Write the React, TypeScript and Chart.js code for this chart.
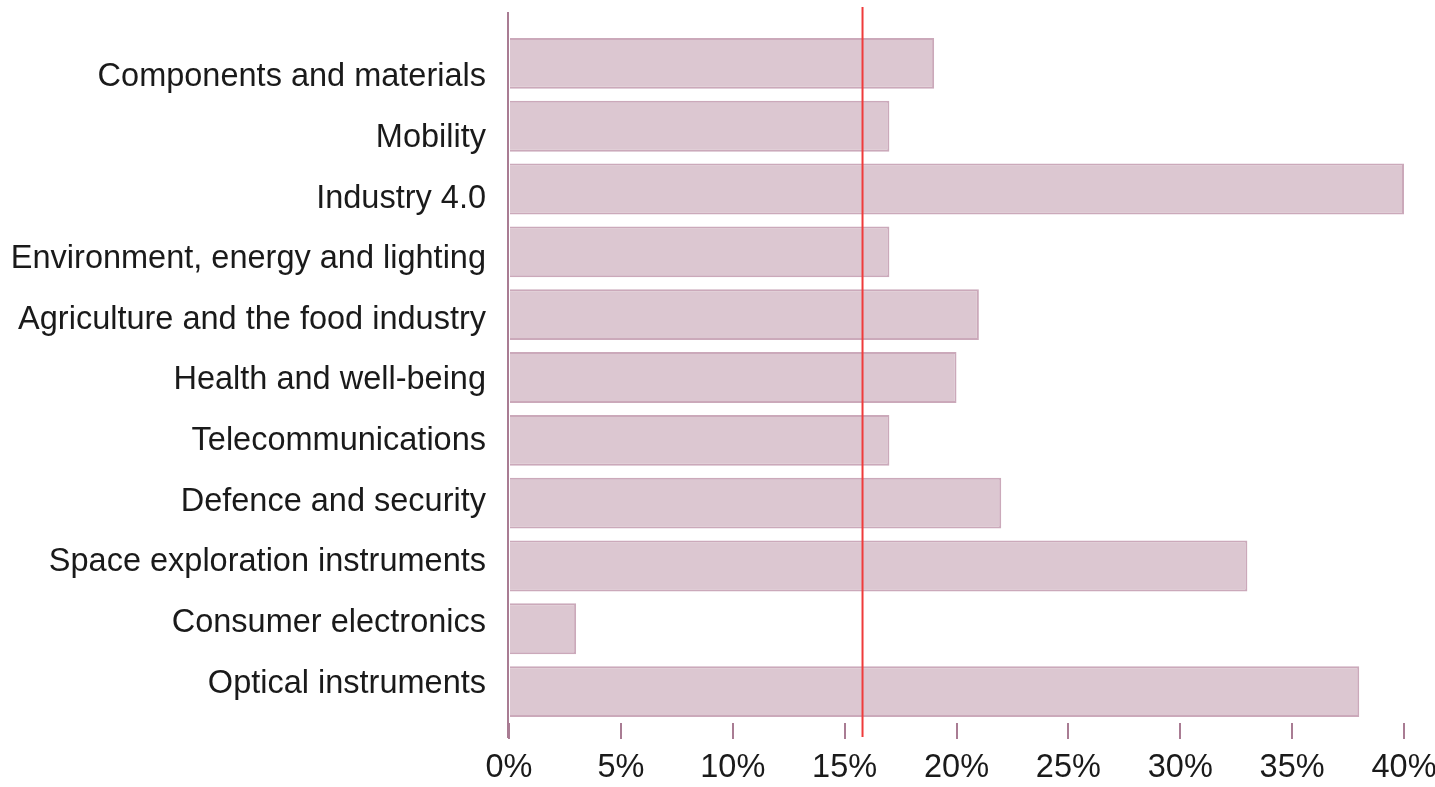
import React, { useEffect, useRef } from "react";
import { Chart, registerables } from "chart.js";

Chart.register(...registerables);

const CATEGORIES = [
  "Components and materials",
  "Mobility",
  "Industry 4.0",
  "Environment, energy and lighting",
  "Agriculture and the food industry",
  "Health and well-being",
  "Telecommunications",
  "Defence and security",
  "Space exploration instruments",
  "Consumer electronics",
  "Optical instruments",
];

const SHARES = [19, 17, 40, 17, 21, 20, 17, 22, 33, 3, 38];

const X_MIN = 0;
const X_MAX = 40;
const X_STEP = 5;
const REFERENCE_LINE = 15.8;

const FONT_FAMILY = "'Liberation Sans', Arial, Helvetica, sans-serif";
const TEXT_COLOR = "#1a1a1a";
const AXIS_COLOR = "#a97c93";
const BAR_FILL = "#dcc7d1";
const BAR_BORDER = "#cba9ba";
const RED = "#ef3b3b";

const linesPlugin = {
  id: "customLines",
  beforeDatasetsDraw(chart: any) {
    const { ctx, chartArea } = chart;
    ctx.save();
    ctx.strokeStyle = AXIS_COLOR;
    ctx.lineWidth = 2;
    ctx.beginPath();
    ctx.moveTo(chartArea.left - 1, chartArea.top - 20);
    ctx.lineTo(chartArea.left - 1, chartArea.bottom + 15);
    ctx.stroke();
    ctx.restore();
  },
  afterDatasetsDraw(chart: any) {
    const { ctx, chartArea, scales } = chart;
    const x = scales.x.getPixelForValue(REFERENCE_LINE);
    ctx.save();
    ctx.strokeStyle = RED;
    ctx.lineWidth = 2;
    ctx.beginPath();
    ctx.moveTo(x, chartArea.top - 25);
    ctx.lineTo(x, chartArea.bottom + 14);
    ctx.stroke();
    ctx.restore();
  },
};

export default function App() {
  const canvasRef = useRef<HTMLCanvasElement | null>(null);

  useEffect(() => {
    if (!canvasRef.current) return;
    const chart = new Chart(canvasRef.current, {
      type: "bar",
      data: {
        labels: CATEGORIES,
        datasets: [
          {
            data: SHARES,
            backgroundColor: BAR_FILL,
            borderColor: BAR_BORDER,
            borderWidth: 2,
            categoryPercentage: 1,
            barPercentage: 0.81,
            yAxisID: "y",
          },
        ],
      },
      options: {
        indexAxis: "y",
        animation: false,
        responsive: true,
        maintainAspectRatio: false,
        layout: { padding: { top: 32, right: 31, bottom: 0, left: 0 } },
        plugins: {
          legend: { display: false },
          tooltip: { enabled: false },
        },
        scales: {
          x: {
            type: "linear",
            min: X_MIN,
            max: X_MAX,
            position: "bottom",
            border: { display: false },
            grid: {
              drawOnChartArea: false,
              drawTicks: true,
              tickLength: 16,
              color: AXIS_COLOR,
              lineWidth: 2,
            },
            ticks: {
              stepSize: X_STEP,
              padding: 10,
              color: TEXT_COLOR,
              font: { family: FONT_FAMILY, size: 32.5 },
              callback: (v: any) => `${v}%`,
            },
            afterFit: (scale: any) => {
              scale.height = 64;
              scale.paddingLeft = 0;
              scale.paddingRight = 0;
            },
          },
          y: {
            type: "category",
            display: false,
          },
          yLabels: {
            type: "linear",
            position: "left",
            reverse: true,
            offset: false,
            bounds: "data",
            min: -0.75,
            max: CATEGORIES.length - 1 + 0.65,
            border: { display: false },
            grid: { display: false, drawTicks: false, offset: false },
            afterBuildTicks: (scale: any) => {
              scale.ticks = CATEGORIES.map((_, i) => ({ value: i }));
            },
            ticks: {
              autoSkip: false,
              padding: 23,
              color: TEXT_COLOR,
              font: { family: FONT_FAMILY, size: 32.5 },
              callback: (v: any) => {
                const i = Math.round(Number(v));
                return i >= 0 && i < CATEGORIES.length ? CATEGORIES[i] : "";
              },
            },
            afterFit: (scale: any) => {
              scale.width = 509;
              scale.paddingTop = 0;
              scale.paddingBottom = 0;
            },
          },
        },
      },
      plugins: [linesPlugin],
    });
    return () => chart.destroy();
  }, []);

  return (
    <div
      style={{
        position: "fixed",
        left: 0,
        top: 0,
        width: "1435px",
        height: "787px",
        background: "#ffffff",
      }}
    >
      <canvas ref={canvasRef} />
    </div>
  );
}
